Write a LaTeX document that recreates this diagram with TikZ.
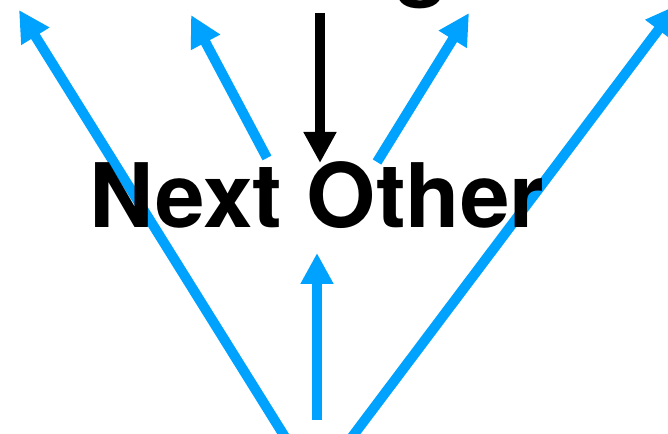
\documentclass[tikz,border=0pt]{standalone}
\usepackage{fontspec}
\setmainfont{TeX Gyre Heros}
\usetikzlibrary{arrows.meta}
\definecolor{pointer}{RGB}{0,162,255}

\begin{document}
\begin{tikzpicture}[x=1pt,y=1pt, ray/.style={-{Triangle[length=31pt,width=31pt]},line width=10pt,draw=pointer,fill=pointer}, feed/.style={-{Triangle[length=31pt,width=31pt]},line width=10pt,draw=black}, word/.style={inner sep=0pt,anchor=base west,font=\fontsize{89}{89}\selectfont\bfseries}]
\clip (0,0) rectangle (668,433);
\coordinate (leftfoot) at (285,-4);
\coordinate (leftend) at (19,423);
\coordinate (nextfoot) at (267,275);
\coordinate (nextend) at (191,418);
\coordinate (otherfoot) at (377,271);
\coordinate (otherend) at (469,420);
\coordinate (rightfoot) at (352,-4);
\coordinate (rightend) at (677,428);
\coordinate (midfoot) at (317,13);
\coordinate (midend) at (317,180);
\coordinate (topstart) at (320,420);
\coordinate (topend) at (320,270);
\draw[ray] (leftfoot) -- (leftend);
\draw[ray] (nextfoot) -- (nextend);
\draw[ray] (otherfoot) -- (otherend);
\draw[ray] (rightfoot) -- (rightend);
\draw[ray] (midfoot) -- (midend);
\draw[feed] (topstart) -- (topend);
\node[word] (pair) at (89,205) {Next Other};
\node[word] (above) at (394,443) {g};
\end{tikzpicture}
\end{document}
